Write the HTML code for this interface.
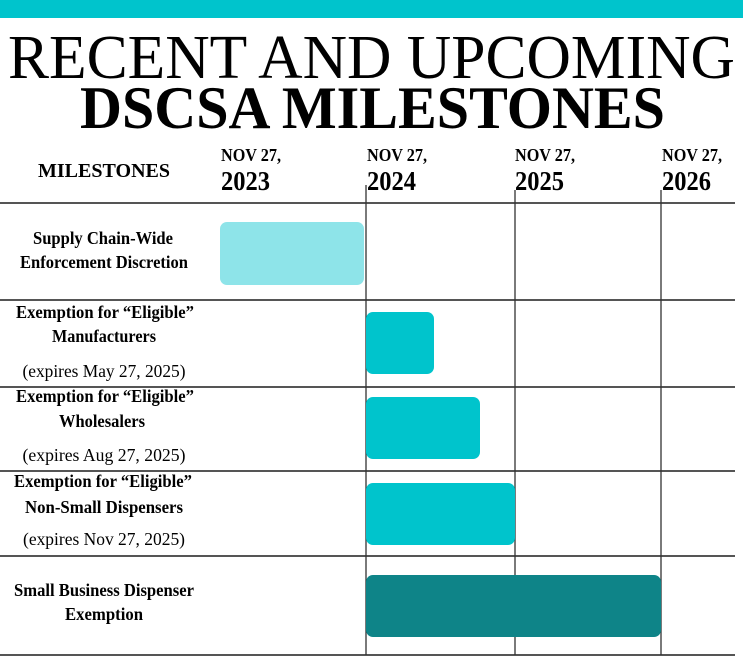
<!DOCTYPE html>
<html><head><meta charset="utf-8"><style>
html,body{margin:0;padding:0;background:#fff;}
svg{display:block;}
text{font-family:"Liberation Serif",serif;fill:#000;}
.b{font-weight:bold;}
</style></head><body>
<svg width="743" height="662" viewBox="0 0 743 662" xmlns="http://www.w3.org/2000/svg">
<rect x="0" y="0" width="743" height="18" fill="#00c4cc"/>
<text x="8" y="78" font-size="62" textLength="727" lengthAdjust="spacingAndGlyphs">RECENT AND UPCOMING</text>
<text class="b" x="80" y="128" font-size="60" textLength="585" lengthAdjust="spacingAndGlyphs">DSCSA MILESTONES</text>

<text class="b" x="38" y="177" font-size="20" textLength="132" lengthAdjust="spacingAndGlyphs">MILESTONES</text>
<g font-size="18">
<text class="b" x="221" y="161" textLength="60" lengthAdjust="spacingAndGlyphs">NOV 27,</text>
<text class="b" x="367" y="161" textLength="60" lengthAdjust="spacingAndGlyphs">NOV 27,</text>
<text class="b" x="515" y="161" textLength="60" lengthAdjust="spacingAndGlyphs">NOV 27,</text>
<text class="b" x="662" y="161" textLength="60" lengthAdjust="spacingAndGlyphs">NOV 27,</text>
</g>
<g font-size="27">
<text class="b" x="221" y="190" textLength="49" lengthAdjust="spacingAndGlyphs">2023</text>
<text class="b" x="367" y="190" textLength="49" lengthAdjust="spacingAndGlyphs">2024</text>
<text class="b" x="515" y="190" textLength="49" lengthAdjust="spacingAndGlyphs">2025</text>
<text class="b" x="662" y="190" textLength="49" lengthAdjust="spacingAndGlyphs">2026</text>
</g>

<g stroke="#555" stroke-width="2">
<line x1="0" y1="203" x2="735" y2="203"/>
<line x1="0" y1="300" x2="735" y2="300"/>
<line x1="0" y1="387" x2="735" y2="387"/>
<line x1="0" y1="471" x2="735" y2="471"/>
<line x1="0" y1="556" x2="735" y2="556"/>
<line x1="0" y1="655" x2="735" y2="655"/>
</g>
<g stroke="#333" stroke-width="1.3">
<line x1="366" y1="185" x2="366" y2="655"/>
<line x1="515" y1="190" x2="515" y2="655"/>
<line x1="661" y1="190" x2="661" y2="655"/>
</g>

<rect x="220" y="222" width="144" height="63" rx="7" fill="#8ee4e9"/>
<rect x="366" y="312" width="68" height="62" rx="7" fill="#00c4cc"/>
<rect x="366" y="397" width="114" height="62" rx="7" fill="#00c4cc"/>
<rect x="366" y="483" width="149" height="62" rx="7" fill="#00c4cc"/>
<rect x="366" y="575" width="295" height="62" rx="7" fill="#0e8488"/>

<g font-size="18" text-anchor="middle">
<text class="b" x="103" y="244" textLength="140" lengthAdjust="spacingAndGlyphs">Supply Chain-Wide</text>
<text class="b" x="104" y="268" textLength="168" lengthAdjust="spacingAndGlyphs">Enforcement Discretion</text>
<text class="b" x="105" y="318" textLength="178" lengthAdjust="spacingAndGlyphs">Exemption for “Eligible”</text>
<text class="b" x="104" y="342" textLength="104" lengthAdjust="spacingAndGlyphs">Manufacturers</text>
<text x="104" y="377" textLength="163" lengthAdjust="spacingAndGlyphs">(expires May 27, 2025)</text>
<text class="b" x="105" y="402" textLength="178" lengthAdjust="spacingAndGlyphs">Exemption for “Eligible”</text>
<text class="b" x="102" y="427" textLength="86" lengthAdjust="spacingAndGlyphs">Wholesalers</text>
<text x="104" y="461" textLength="163" lengthAdjust="spacingAndGlyphs">(expires Aug 27, 2025)</text>
<text class="b" x="103" y="487" textLength="178" lengthAdjust="spacingAndGlyphs">Exemption for “Eligible”</text>
<text class="b" x="104" y="513" textLength="158" lengthAdjust="spacingAndGlyphs">Non-Small Dispensers</text>
<text x="104" y="545" textLength="162" lengthAdjust="spacingAndGlyphs">(expires Nov 27, 2025)</text>
<text class="b" x="104" y="596" textLength="180" lengthAdjust="spacingAndGlyphs">Small Business Dispenser</text>
<text class="b" x="104" y="620" textLength="78" lengthAdjust="spacingAndGlyphs">Exemption</text>
</g>
</svg>
</body></html>
